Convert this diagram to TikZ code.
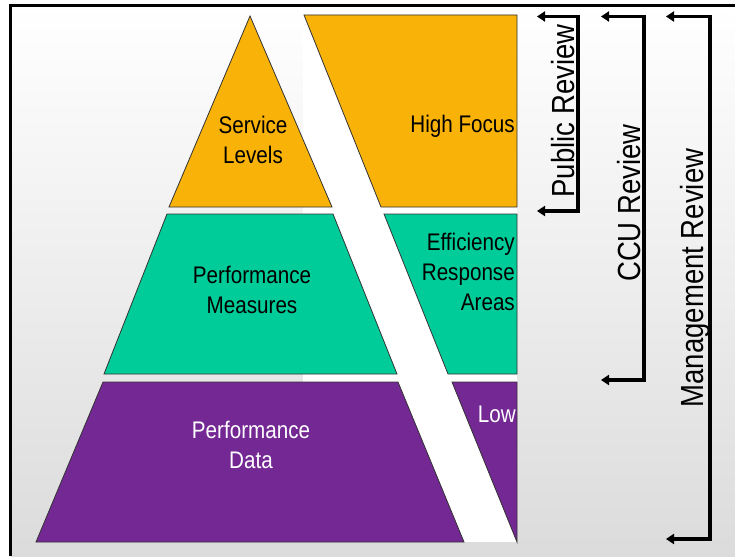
\documentclass[tikz,border=0pt]{standalone}
\usepackage{fontspec}
\setmainfont{Liberation Sans}[FakeStretch=0.86]
\usetikzlibrary{arrows.meta}
\definecolor{orng}{RGB}{249,178,8}
\definecolor{grn}{RGB}{0,204,153}
\definecolor{purp}{RGB}{116,40,148}
\begin{document}
\begin{tikzpicture}[x=1pt,y=-1pt,
  piece/.style={draw=black!80,line width=0.8pt},
  lbl/.style={align=center,inner sep=0pt,font=\fontsize{24}{30}\selectfont},
  rlbl/.style={align=right,inner sep=0pt,font=\fontsize{24}{30}\selectfont},
  rev/.style={rotate=90,anchor=base,inner sep=0pt,font=\fontsize{32}{36}\selectfont},
  bracket/.style={line width=3.2pt,{Triangle[length=8pt,width=10pt]}-{Triangle[length=8pt,width=10pt]}}]
\useasboundingbox (0,0) rectangle (735,556);
\fill[white] (0,0) rectangle (735,556);
\shade[top color=white,bottom color=black!14] (10.5,5.5) rectangle (735,556);
\draw[line width=2.2pt] (10.5,556) -- (10.5,5.5) -- (735,5.5);
% white backing of right part
\fill[white] (303,15) rectangle (517,542);
% top layer
\draw[piece,fill=orng] (250,16) -- (332,207) -- (169,207) -- cycle;
\draw[piece,fill=orng] (304,15) -- (517,15) -- (517,207) -- (381,207) -- cycle;
% middle layer
\draw[piece,fill=grn] (167,214) -- (333,214) -- (397,374) -- (104,374) -- cycle;
\draw[piece,fill=grn] (384,214) -- (517,214) -- (517,374) -- (448,374) -- cycle;
% bottom layer
\draw[piece,fill=purp] (103,382) -- (398,382) -- (464,542) -- (36,542) -- cycle;
\draw[piece,fill=purp] (452,382) -- (517,382) -- (517,542) -- cycle;
% labels
\node[lbl] (sl) at (253,140) {Service\\Levels};
\node[rlbl,anchor=east] (hf) at (515,126) {High Focus};
\node[lbl] (pm) at (252,290) {Performance\\Measures};
\node[rlbl,anchor=east] (era) at (515,272) {Efficiency\\Response\\Areas};
\node[lbl,text=white] (pd) at (251,445) {Performance\\Data};
\node[rlbl,anchor=east,text=white] (lw) at (516,414) {Low};
% review brackets
\coordinate (pt1) at (537,16.5); \coordinate (pc1) at (578,16.5);
\coordinate (pc2) at (578,211); \coordinate (pt2) at (537,211);
\draw[bracket] (pt1) -- (pc1) -- (pc2) -- (pt2);
\coordinate (ct1) at (601,16.5); \coordinate (cc1) at (644,16.5);
\coordinate (cc2) at (644,380); \coordinate (ct2) at (601,380);
\draw[bracket] (ct1) -- (cc1) -- (cc2) -- (ct2);
\coordinate (mt1) at (666,16.5); \coordinate (mc1) at (710,16.5);
\coordinate (mc2) at (710,539); \coordinate (mt2) at (666,539);
\draw[bracket] (mt1) -- (mc1) -- (mc2) -- (mt2);
\node[rev] (pr) at (574,111) {Public Review};
\node[rev] (cr) at (640,203) {CCU Review};
\node[rev] (mr) at (703,278) {Management Review};
\end{tikzpicture}
\end{document}
